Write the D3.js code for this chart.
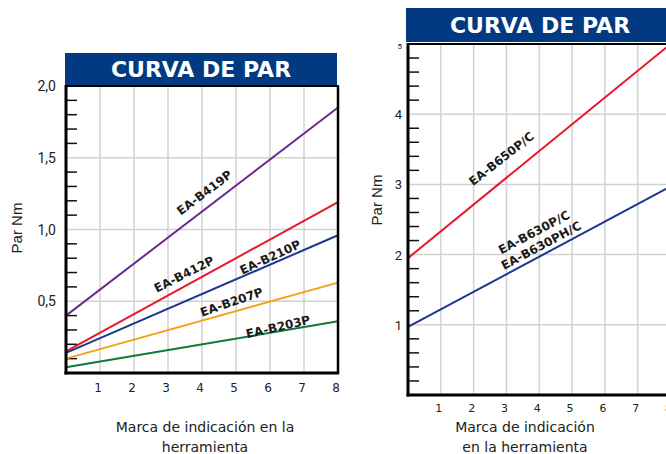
<!DOCTYPE html>
<html><head><meta charset="utf-8">
<script src="https://cdn.jsdelivr.net/npm/d3@7"></script>
<style>body{margin:0;background:#fff;overflow:hidden}svg{display:block}</style>
</head><body>
<svg id="c" width="666" height="454"></svg>
<script>
// ---- data ----
const xTicks = [1,2,3,4,5,6,7,8];
const titleText = "CURVA DE PAR";
const yLabel = "Par Nm";
// left chart
const leftYTicks = [0.5,1.0,1.5,2.0];
const leftYTickLabels = ["0,5","1,0","1,5","2,0"];
const leftNames = ["EA-B419P","EA-B412P","EA-B210P","EA-B207P","EA-B203P"];
const leftStart = [0.40,0.15,0.14,0.10,0.04];   // value at x = 0
const leftEnd   = [1.85,1.19,0.96,0.63,0.36];   // value at x = 8
const leftColors = ["#6b2a92","#e8172b","#1d3790","#f6a01a","#0c7a3b"];
const leftXTitle = ["Marca de indicación en la","herramienta"];
// right chart
const rightYTicks = [1,2,3,4,5];
const rightYTickLabels = ["1","2","3","4","5"];
const rightNames = ["EA-B650P/C","EA-B630P/C\nEA-B630PH/C"];
const rightStart = [1.95,0.97];
const rightEnd   = [5.00,2.97];
const rightColors = ["#e8172b","#1d3790"];
const rightXTitle = ["Marca de indicación","en la herramienta"];

const svg = d3.select("#c");
const navy = "#023a82";

function chart(o){
  const x = d3.scaleLinear().domain([0,8]).range(o.xr);
  const y = d3.scaleLinear().domain([0,o.ymax]).range(o.yr);
  const g = svg.append("g");
  // title bar
  g.append("rect").attr("x",o.bar[0]).attr("y",o.bar[1]).attr("width",o.bar[2]).attr("height",o.bar[3]).attr("fill",navy);
  g.append("text").attr("x",o.bar[0]+o.bar[2]/2).attr("y",o.bar[1]+o.bar[3]/2+8)
    .attr("text-anchor","middle").attr("fill","#fff").attr("font-family","DejaVu Sans")
    .attr("font-weight","bold").attr("font-size",22).text(titleText);
  // grid
  g.selectAll(".vg").data(xTicks.filter(d=>d<8)).join("line")
    .attr("x1",d=>x(d)).attr("x2",d=>x(d)).attr("y1",y(o.ymax)).attr("y2",y(0))
    .attr("stroke","#d2d2d2").attr("stroke-width",1.5);
  g.selectAll(".hg").data(o.yTicks.filter(d=>d<o.ymax)).join("line")
    .attr("x1",x(0)).attr("x2",x(8)).attr("y1",d=>y(d)).attr("y2",d=>y(d))
    .attr("stroke","#d2d2d2").attr("stroke-width",1.5);
  // minor ticks
  const minors = d3.range(o.minor, o.ymax-1e-9, o.minor).filter(v=>!o.yTicks.some(t=>Math.abs(t-v)<1e-6));
  g.selectAll(".mt").data(minors).join("line")
    .attr("x1",x(0)).attr("x2",x(0)+11).attr("y1",d=>y(d)).attr("y2",d=>y(d))
    .attr("stroke","#111").attr("stroke-width",1.5);
  // series
  o.names.forEach((n,i)=>{
    g.append("line").attr("x1",x(0)).attr("y1",y(o.start[i])).attr("x2",x(8)).attr("y2",y(o.end[i]))
      .attr("stroke",o.colors[i]).attr("stroke-width",2);
  });
  // frame
  g.append("line").attr("x1",x(0)).attr("x2",x(8)+1).attr("y1",y(o.ymax)).attr("y2",y(o.ymax)).attr("stroke","#000").attr("stroke-width",2);
  g.append("line").attr("x1",x(8)).attr("x2",x(8)).attr("y1",y(o.ymax)).attr("y2",y(0)).attr("stroke","#000").attr("stroke-width",2.5);
  g.append("line").attr("x1",x(0)).attr("x2",x(0)).attr("y1",y(o.ymax)-1).attr("y2",y(0)+1.5).attr("stroke","#000").attr("stroke-width",3);
  g.append("line").attr("x1",x(0)-1.5).attr("x2",x(8)+1.2).attr("y1",y(0)).attr("y2",y(0)).attr("stroke","#000").attr("stroke-width",3);
  // tick labels
  g.selectAll(".xl").data(xTicks).join("text")
    .attr("x",d=>x(d)-2).attr("y",y(0)+o.xlOff).attr("text-anchor","middle")
    .attr("font-family","DejaVu Sans").attr("font-size",o.xlSize).attr("fill","#222").text(d=>d);
  g.selectAll(".yl").data(o.yTicks).join("text")
    .attr("x",x(0)-o.ylGap).attr("y",d=>y(d)+5).attr("text-anchor","end")
    .attr("font-family","Roboto").attr("font-size",(d,i)=>o.ylSizes[i]).attr("fill","#222")
    .text((d,i)=>o.yLabels[i]);
  // axis titles
  g.append("text").attr("transform",`translate(${o.ytx},${o.yty}) rotate(-90)`).attr("text-anchor","middle")
    .attr("font-family","Liberation Sans").attr("font-size",15).attr("fill","#222").text(yLabel);
  g.selectAll(".xt").data(o.xTitle).join("text")
    .attr("x",o.xtx).attr("y",(d,i)=>o.xty+i*20).attr("text-anchor","middle")
    .attr("font-family","DejaVu Sans").attr("font-size",14).attr("fill","#222").text(d=>d);
  // series labels
  o.names.forEach((n,i)=>{
    const p = o.lab[i];
    const t = g.append("text").attr("transform",`translate(${p[0]},${p[1]}) rotate(${p[2]})`)
      .attr("text-anchor","middle").attr("font-family","DejaVu Sans").attr("font-weight","bold")
      .attr("font-size",12).attr("fill","#1a1a1a");
    n.split("\n").forEach((s,k)=>t.append("tspan").attr("x",0).attr("dy",k?15:0).text(s));
  });
}

chart({xr:[66,338], yr:[373,86], ymax:2, minor:0.1, yTicks:leftYTicks, yLabels:leftYTickLabels,
  ylSizes:[14,14,14,14], ylGap:10, xlOff:19, xlSize:12,
  names:leftNames, start:leftStart, end:leftEnd, colors:leftColors,
  bar:[65,53,272,32], ytx:22, yty:228, xTitle:leftXTitle, xtx:205, xty:432,
  lab:[[207,196,-37],[186,278,-27],[272,261,-25],[233,306,-19],[279,331,-13]]});

chart({xr:[408,670.5], yr:[395,44], ymax:5, minor:0.2, yTicks:rightYTicks, yLabels:rightYTickLabels,
  ylSizes:[13,13,13,13,8], ylGap:6, xlOff:17, xlSize:11,
  names:rightNames, start:rightStart, end:rightEnd, colors:rightColors,
  bar:[406,8,268,34], ytx:382, yty:200, xTitle:rightXTitle, xtx:525, xty:432,
  lab:[[504,162,-38],[536,236,-28]]});
</script>
</body></html>
